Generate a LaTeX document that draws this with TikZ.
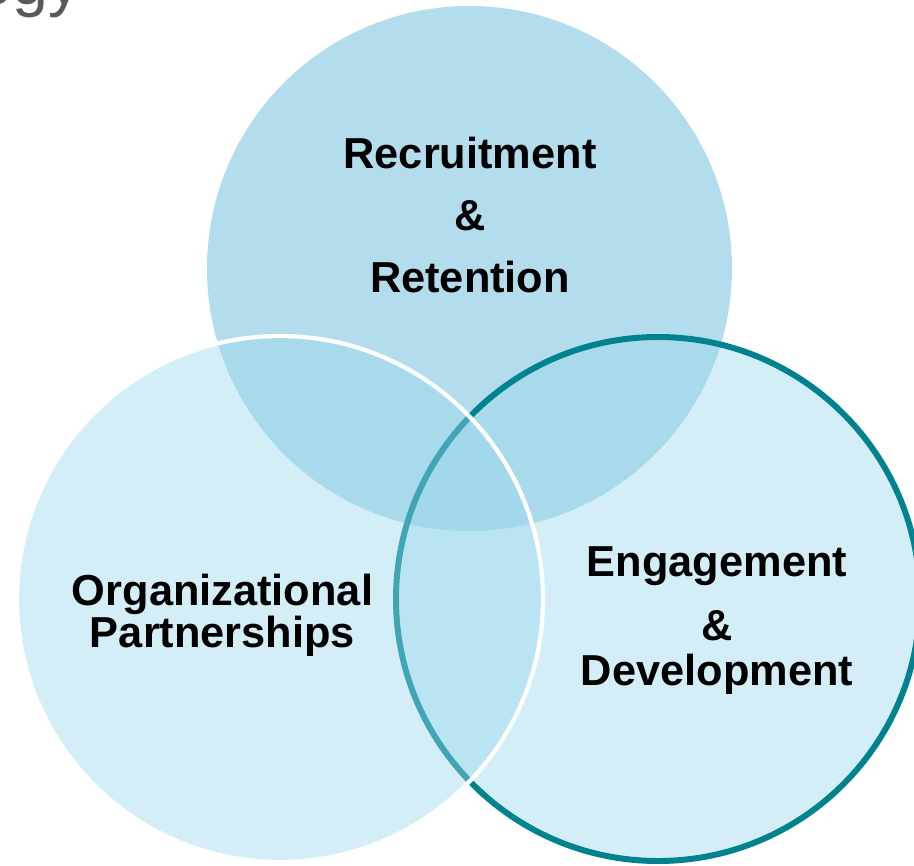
\documentclass[tikz,border=0pt]{standalone}
\usepackage{fontspec}
\setmainfont{Liberation Sans}
\usepackage{tikz}
\definecolor{topblue}{RGB}{179,221,236}
\definecolor{lightblue}{RGB}{153,214,235}
\definecolor{tealline}{RGB}{0,131,143}
\definecolor{titlegray}{RGB}{89,89,89}
\tikzset{
	label/.style={font=\fontsize{37}{40}\selectfont\bfseries, anchor=base, inner sep=0pt},
	ring/.style={fill=lightblue, fill opacity=.42}
}

\begin{document}
\begin{tikzpicture}[x=0.03cm, y=-0.03cm]
		\clip (0,0) rectangle (914,866);
		\node[anchor=base east, inner sep=0pt, text=titlegray, font=\fontsize{55}{60}\selectfont] (title) at (81,4) {Strategy};
		
		\fill[topblue] (469.5,268.5) circle (262.5);
		\draw[ring, draw=tealline, line width=5.1pt] (658,599) circle (262);
		\draw[ring, draw=white, line width=3.6pt] (280,599) circle (263);
		
		\node[label] (rec) at (470,168) {Recruitment};
		\node[label] (recamp) at (470,230) {\&};
		\node[label] (ret) at (470,292) {Retention};
		
		\node[label, align=center, font=\fontsize{37}{32.3}\selectfont\bfseries] (org) at (222.5,647) {Organizational\\Partnerships};
		
		\node[label] (eng) at (717,576) {Engagement};
		\node[label] (engamp) at (717,640) {\&};
		\node[label] (dev) at (717,685) {Development};
	
	\end{tikzpicture}
\end{document}
